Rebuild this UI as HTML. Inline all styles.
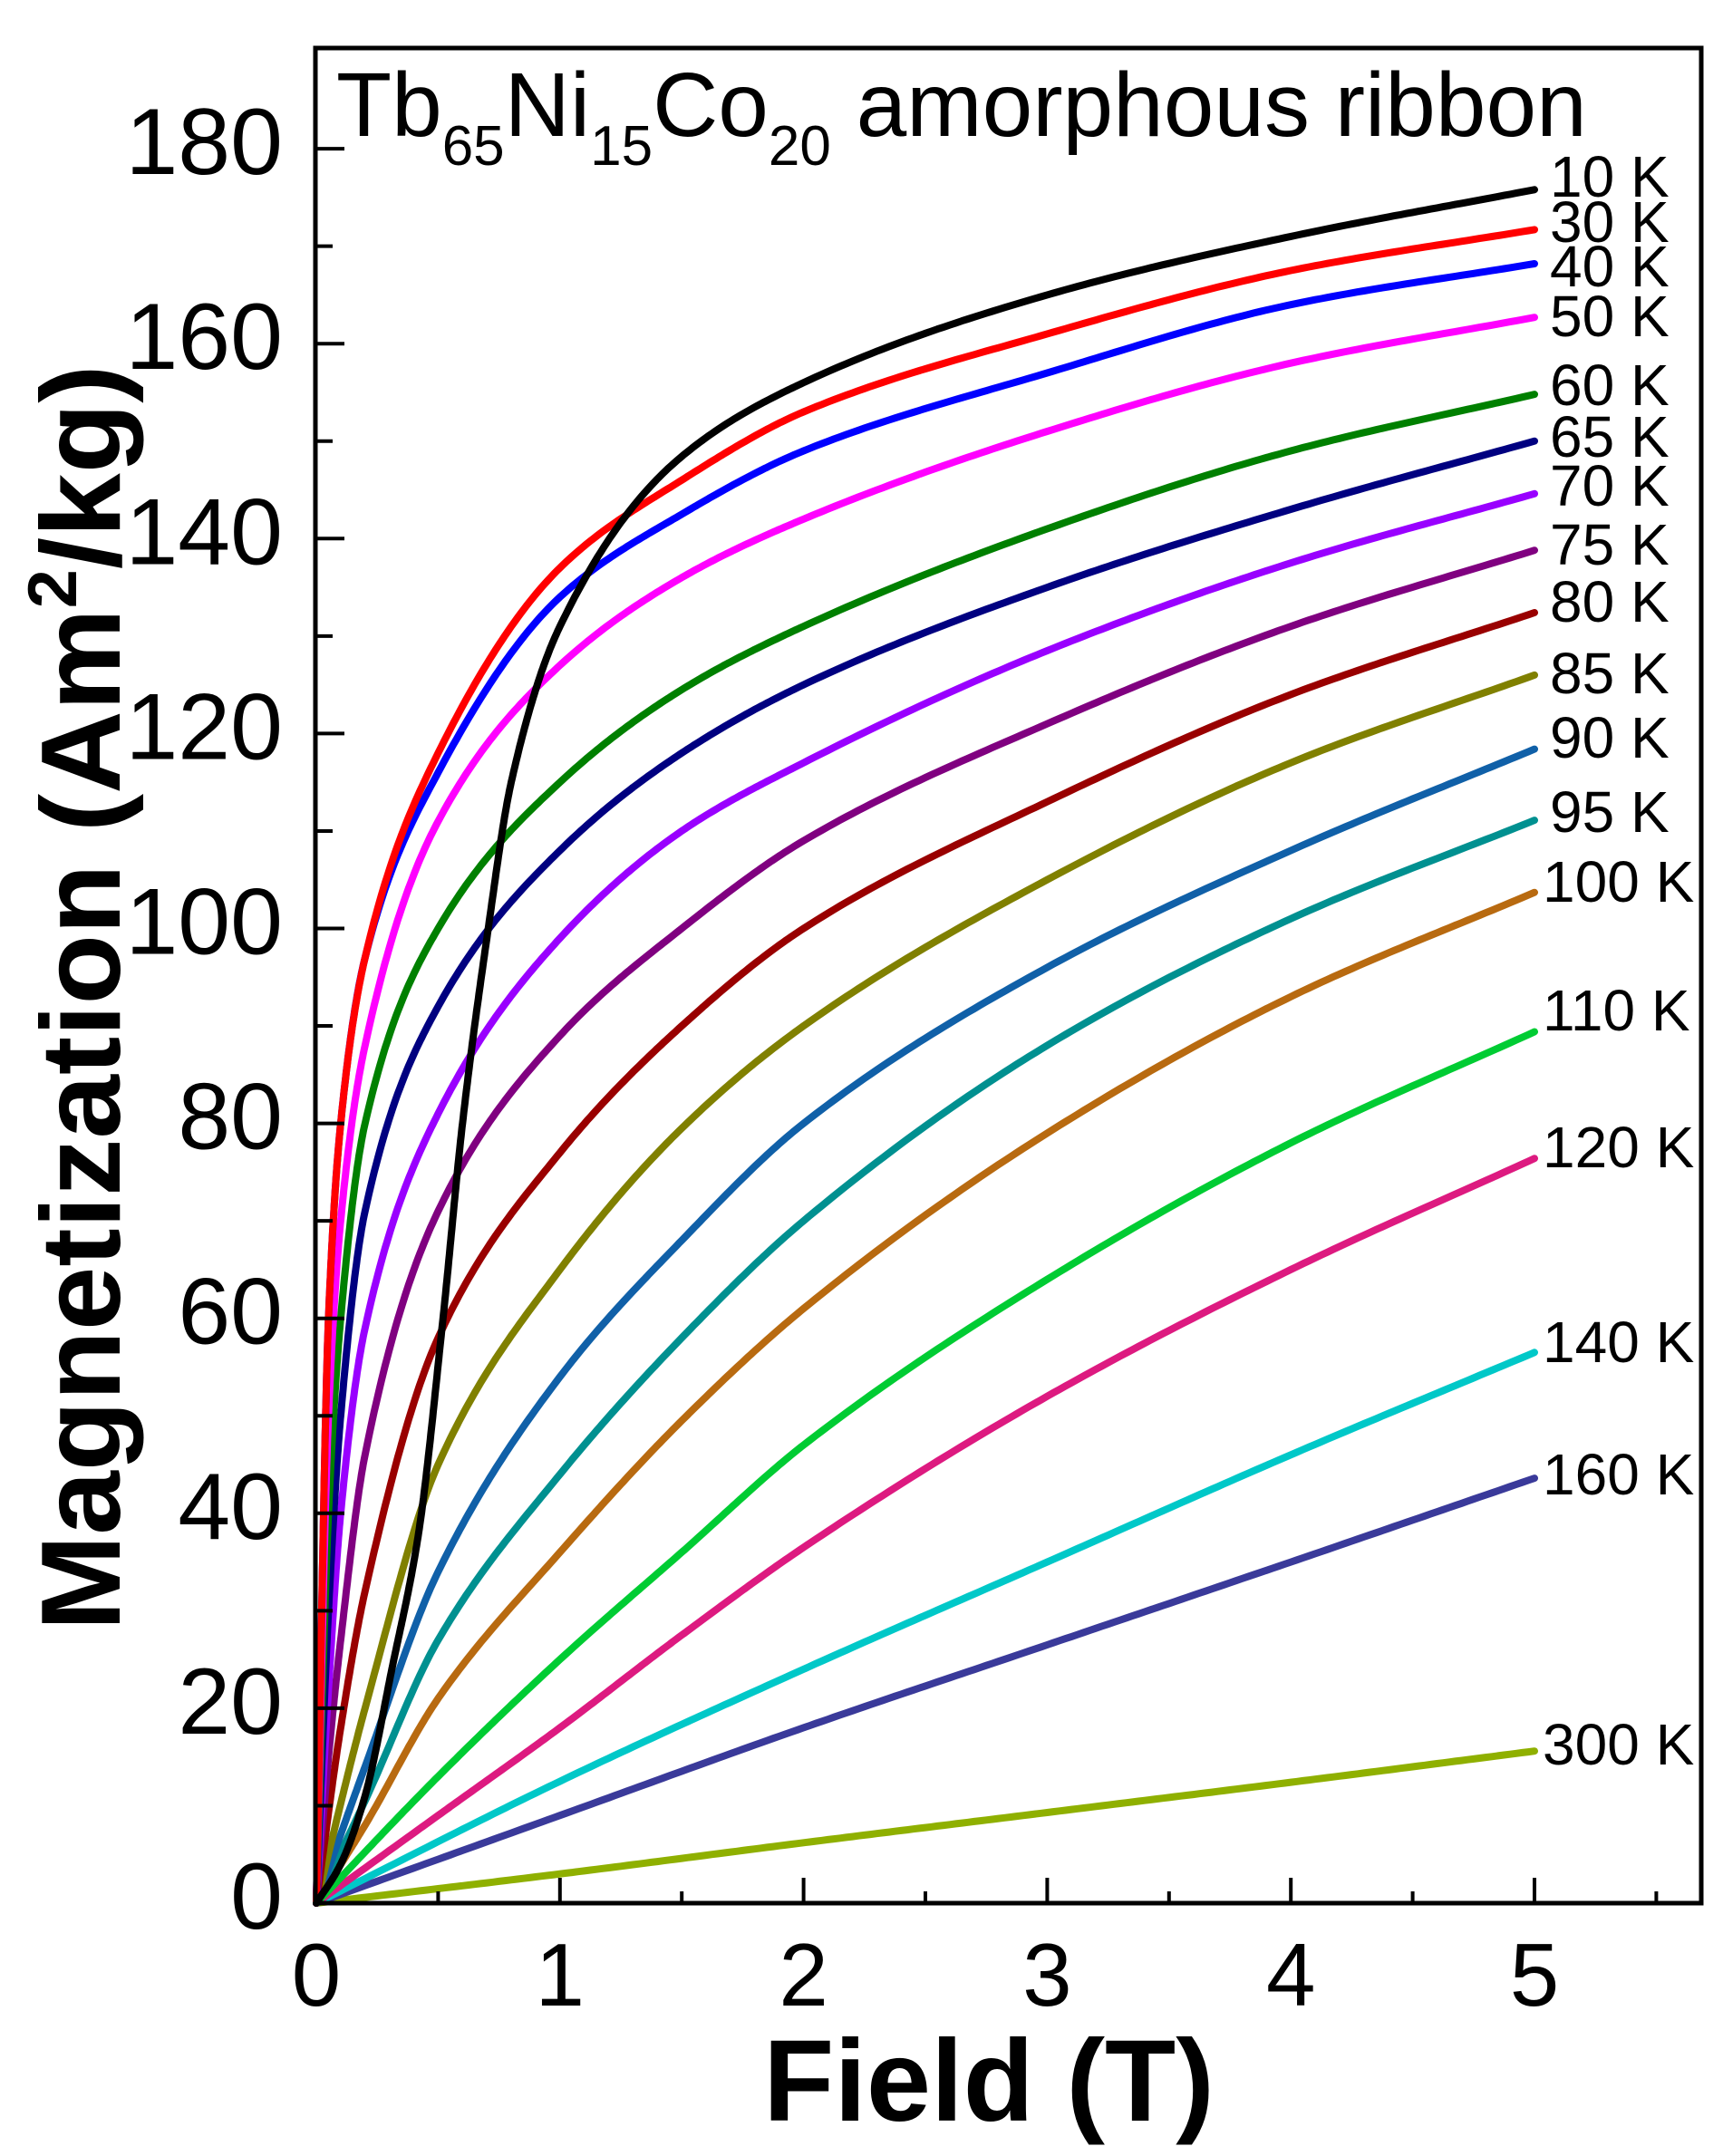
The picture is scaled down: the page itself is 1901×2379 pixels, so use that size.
<!DOCTYPE html>
<html><head><meta charset="utf-8"><style>
html,body{margin:0;padding:0;background:#fff;}
svg{display:block;}
text{font-family:"Liberation Sans",Arial,sans-serif;fill:#000;}
</style></head><body>
<svg id="s" width="1901" height="2379" viewBox="0 0 1901 2379" xmlns="http://www.w3.org/2000/svg">
<rect width="1901" height="2379" fill="#fff"/>
<g id="curves" fill="none" stroke-width="8" stroke-linejoin="round" stroke-linecap="round"></g>
<rect x="348" y="53" width="1529" height="2047" fill="none" stroke="#000" stroke-width="5"/>
<g id="ticks" stroke="#000" stroke-width="4"></g>
<g id="labels"></g>
<text x="371" y="150" font-size="100">Tb<tspan font-size="62" dy="32">65</tspan><tspan dy="-32">Ni</tspan><tspan font-size="62" dy="32">15</tspan><tspan dy="-32">Co</tspan><tspan font-size="62" dy="32">20</tspan><tspan dy="-32"> amorphous ribbon</tspan></text>
<text x="1091" y="2340" font-size="128" font-weight="bold" text-anchor="middle">Field (T)</text>
<text transform="translate(132,1101) rotate(-90)" font-size="124" font-weight="bold" text-anchor="middle" textLength="1397" lengthAdjust="spacingAndGlyphs">Magnetization (Am<tspan font-size="76" dy="-48">2</tspan><tspan dy="48">/kg)</tspan></text>
</svg>
<script>
var NS="http://www.w3.org/2000/svg";
function px(h){return 349+268.8*h;}
function py(m){return 2100-m*10.755;}
var data=[
["300 K","#8fb000",1924,[[0,0],[1,3],[2,6.2],[3,9.3],[4,12.4],[5,15.6]]],
["160 K","#3a3a9a",1626,[[0,0],[1,9],[2,18],[3,26.5],[4,35],[5,43.6]]],
["140 K","#00c8c8",1480,[[0,0],[1,12.5],[2,24],[3,35],[4,46],[5,56.5]]],
["120 K","#dd1a80",1265,[[0,0],[.5,9],[1,18],[1.5,27.5],[2,36.5],[3,52],[4,65],[5,76.4]]],
["110 K","#00cc33",1114,[[0,0],[.5,13],[1,25],[1.5,36],[2,47],[3,64],[4,78],[5,89.4]]],
["100 K","#b86a10",972,[[0,0],[.2,8],[.5,21],[1,36],[1.5,49.5],[2,61],[3,79],[4,93],[5,103.7]]],
["95 K","#009090",895,[[0,0],[.2,10.5],[.5,27],[1,44],[1.5,58],[2,70],[3,88],[4,101],[5,111.1]]],
["90 K","#1060a8",813,[[0,0],[.2,14],[.5,34],[1,54],[1.5,68],[2,80],[3,96],[4,108],[5,118.4]]],
["85 K","#808000",742,[[0,0],[.2,20],[.5,45],[1,65],[1.5,79.5],[2,90],[3,105],[4,117],[5,126]]],
["80 K","#990000",663,[[0,0],[.1,18],[.2,32],[.5,58],[1,77],[1.5,90],[2,100],[3,113],[4,124],[5,132.4]]],
["75 K","#800080",600,[[0,0],[.05,15],[.1,27],[.2,46],[.5,71],[1,89],[1.5,100],[2,109],[3,121],[4,131],[5,138.8]]],
["70 K","#9900ff",535,[[0,0],[.05,22],[.1,40],[.2,59],[.5,81],[1,99],[1.5,110],[2,117],[3,128.5],[4,137.5],[5,144.6]]],
["65 K","#000080",481,[[0,0],[.05,30],[.1,50],[.2,71],[.5,92],[1,108],[1.5,118],[2,125],[3,135],[4,143],[5,150]]],
["60 K","#008000",424,[[0,0],[.05,40],[.1,60],[.2,80],[.5,100],[1,115],[1.5,124.5],[2,131],[3,141],[4,149],[5,154.8]]],
["50 K","#ff00ff",348,[[0,0],[.05,50],[.1,70],[.2,88],[.5,111],[1,127],[1.5,136],[2,142],[3,151],[4,158],[5,162.7]]],
["40 K","#0000ff",293,[[0,0],[.05,60],[.1,80],[.2,97],[.5,116],[1,134],[1.5,142.5],[2,149],[3,157],[4,164],[5,168.2]]],
["30 K","#ff0000",244,[[0,0],[.05,60],[.1,80],[.2,97],[.5,118],[1,137],[1.5,146],[2,153],[3,161],[4,167.5],[5,171.7]]],
["10 K","#000000",194,[[0,0],[.1,4],[.2,11],[.31,24],[.42,38],[.52,60],[.6,80],[.7,99],[.8,115],[1,131],[1.48,148],[2,156],[3,165],[4,171],[5,175.8]]]
];
function mono(pts){
 var n=pts.length,x=pts.map(p=>p[0]),y=pts.map(p=>p[1]),d=[],hs=[],m=[];
 for(var i=0;i<n-1;i++){hs.push(x[i+1]-x[i]);d.push((y[i+1]-y[i])/hs[i]);}
 m[0]=d[0];m[n-1]=d[n-2];
 for(var i=1;i<n-1;i++){
  if(d[i-1]*d[i]<=0)m[i]=0;
  else{var h0=hs[i-1],h1=hs[i];var w1=2*h1+h0,w2=h1+2*h0;m[i]=(w1+w2)/(w1/d[i-1]+w2/d[i]);}
 }
 var out=[];
 for(var i=0;i<n-1;i++){
  var h=hs[i],steps=40;
  for(var k=(i==0?0:1);k<=steps;k++){
   var t=k/steps,t2=t*t,t3=t2*t;
   var v=(2*t3-3*t2+1)*y[i]+(t3-2*t2+t)*h*m[i]+(-2*t3+3*t2)*y[i+1]+(t3-t2)*h*m[i+1];
   out.push([x[i]+t*h,v]);
  }
 }
 return out;
}
var cg=document.getElementById("curves"),lg=document.getElementById("labels"),tg=document.getElementById("ticks");
data.forEach(function(c){
 var p=mono(c[3]);
 var d=p.map(function(q,i){return (i?"L":"M")+px(q[0]).toFixed(1)+","+py(q[1]).toFixed(1);}).join("");
 var e=document.createElementNS(NS,"path");e.setAttribute("d",d);e.setAttribute("stroke",c[1]);cg.appendChild(e);
 var tx=document.createElementNS(NS,"text");
 var x=c[0].length>4?1702:1710;
 tx.setAttribute("x",x);tx.setAttribute("y",c[2]+23);tx.setAttribute("font-size","64");
 tx.textContent=c[0];lg.appendChild(tx);
});
function line(x1,y1,x2,y2){var l=document.createElementNS(NS,"line");l.setAttribute("x1",x1);l.setAttribute("y1",y1);l.setAttribute("x2",x2);l.setAttribute("y2",y2);tg.appendChild(l);}
function txt(x,y,s,fs,anc){var t=document.createElementNS(NS,"text");t.setAttribute("x",x);t.setAttribute("y",y);t.setAttribute("font-size",fs);t.setAttribute("text-anchor",anc);t.textContent=s;lg.appendChild(t);}
for(var m=10;m<=180;m+=10){var y=py(m);var maj=(m%20==0);line(348,y,348+(maj?32:19),y);}
for(var m=0;m<=180;m+=20){txt(312,py(m)+28,String(m),104,"end");}
for(var h=0.5;h<=5.5;h+=0.5){var x=px(h);var maj=(Math.abs(h-Math.round(h))<0.01);line(x,2100,x,2100-(maj?28:13));}
for(var h=0;h<=5;h++){txt(px(h),2213,String(h),98,"middle");}
</script>
</body></html>
